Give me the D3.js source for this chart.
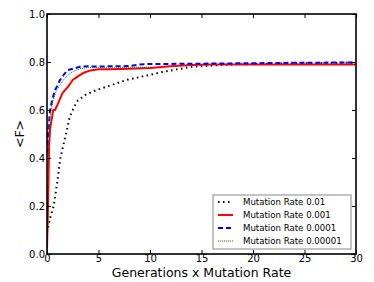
<!DOCTYPE html>
<html><head><meta charset="utf-8">
<script src="https://cdn.jsdelivr.net/npm/d3@7"></script>
<style>body{margin:0;background:#fff}svg{display:block;font-family:"DejaVu Sans",sans-serif}</style>
</head><body><svg id="c" width="374" height="282"></svg>
<script>
const seriesNames = ["Mutation Rate 0.01","Mutation Rate 0.001","Mutation Rate 0.0001","Mutation Rate 0.00001"];
const xTicks = [0,5,10,15,20,25,30];
const yTicks = [0.0,0.2,0.4,0.6,0.8,1.0];
const x001 = [0,0.3,0.65,1.0,1.3,1.7,1.9,2.2,2.6,3.0,3.8,4.8,6,7.7,9.5,11.2,12.7,14.1,16,18,21,25,30];
const y001 = [0.09,0.15,0.2,0.3,0.4,0.475,0.51,0.57,0.61,0.64,0.665,0.683,0.70,0.725,0.742,0.758,0.77,0.78,0.785,0.79,0.792,0.795,0.797];
const x0001 = [0,0.1,0.2,0.3,0.45,0.6,0.77,1.0,1.2,1.5,1.75,2.1,2.5,3.0,3.5,4.2,5,6,7,8,10,12,14,16,20,25,30];
const y0001 = [0.02,0.2,0.45,0.52,0.56,0.6,0.6,0.62,0.64,0.67,0.683,0.70,0.725,0.74,0.754,0.765,0.77,0.77,0.771,0.772,0.775,0.782,0.787,0.79,0.79,0.79,0.79];
const x00001 = [0,0.1,0.2,0.3,0.5,0.77,1.0,1.26,1.6,2.0,2.5,3.2,4,5,6,8,9,10,12,15,20,25,30];
const y00001 = [0.42,0.5,0.55,0.6,0.64,0.683,0.70,0.725,0.745,0.766,0.772,0.78,0.782,0.781,0.782,0.783,0.79,0.792,0.792,0.793,0.795,0.797,0.798];
const x000001 = [0,0.1,0.2,0.4,0.6,0.9,1.2,1.6,2.0,2.5,3.2,4,5,6,7,8,9,10];
const y000001 = [0.44,0.5,0.55,0.6,0.64,0.68,0.7,0.725,0.745,0.76,0.772,0.777,0.778,0.778,0.778,0.778,0.778,0.779];

const svg = d3.select("#c");
const L=47,R=356,T=14,B=254;
const xs = d3.scaleLinear().domain([0,30]).range([L,R]);
const ys = d3.scaleLinear().domain([0,1]).range([B,T]);
const line = d3.line().x(d=>xs(d[0])).y(d=>ys(d[1]));
const series = [
  {xs:x001, ys:y001, color:"#000", w:2, dash:"1.5,3.5"},
  {xs:x0001, ys:y0001, color:"#ff0000", w:2, dash:null},
  {xs:x00001, ys:y00001, color:"#0000ff", w:2, dash:"5,3"},
  {xs:x000001, ys:y000001, color:"#008000", w:1, dash:"1,1"}
];
const g = svg.append("g");
g.append("defs").append("clipPath").attr("id","cp").append("rect").attr("x",L).attr("y",T).attr("width",R-L).attr("height",B-T);
const plot = g.append("g").attr("clip-path","url(#cp)");
series.forEach(s=>{
  plot.append("path").datum(s.xs.map((v,i)=>[v,s.ys[i]]))
    .attr("d",line).attr("fill","none").attr("stroke",s.color).attr("stroke-width",s.w)
    .attr("stroke-dasharray",s.dash).attr("stroke-linejoin","round");
});
// axes
const ax = g.append("g").attr("transform",`translate(0,${B})`).call(d3.axisBottom(xs).tickValues(xTicks).tickSize(-4).tickPadding(1).tickFormat(d3.format("d")));
const ax2 = g.append("g").attr("transform",`translate(0,${T})`).call(d3.axisTop(xs).tickValues(xTicks).tickSize(-4).tickFormat(""));
const ay = g.append("g").attr("transform",`translate(${L},0)`).call(d3.axisLeft(ys).tickValues(yTicks).tickSize(-4).tickPadding(2).tickFormat(d3.format(".1f")));
const ay2 = g.append("g").attr("transform",`translate(${R},0)`).call(d3.axisRight(ys).tickValues(yTicks).tickSize(-4).tickFormat(""));
[ax,ax2,ay,ay2].forEach(a=>{a.select(".domain").remove();a.selectAll("line").attr("stroke","#000").attr("stroke-width",1);a.selectAll("text").attr("font-size",10).attr("font-family","DejaVu Sans").attr("fill","#000");});
g.append("rect").attr("x",L).attr("y",T).attr("width",R-L).attr("height",B-T).attr("fill","none").attr("stroke","#000").attr("stroke-width",1.6);
// labels
svg.append("text").attr("x",(L+R)/2).attr("y",277).attr("text-anchor","middle").attr("font-size",12.5).text("Generations x Mutation Rate");
svg.append("text").attr("transform",`translate(24,${(T+B)/2}) rotate(-90)`).attr("text-anchor","middle").attr("font-size",12.5).text("<F>");
// legend
const lg = svg.append("g");
lg.append("rect").attr("x",213).attr("y",195).attr("width",138).attr("height",54).attr("fill","#fff").attr("stroke","#888").attr("stroke-width",1);
series.forEach((s,i)=>{
  const yy = 202+i*13;
  lg.append("line").attr("x1",218).attr("x2",233).attr("y1",yy).attr("y2",yy).attr("stroke",s.color).attr("stroke-width",s.w).attr("stroke-dasharray",s.dash);
  lg.append("text").attr("x",243).attr("y",yy+3).attr("font-size",8.6).text(seriesNames[i]);
});
</script></body></html>
